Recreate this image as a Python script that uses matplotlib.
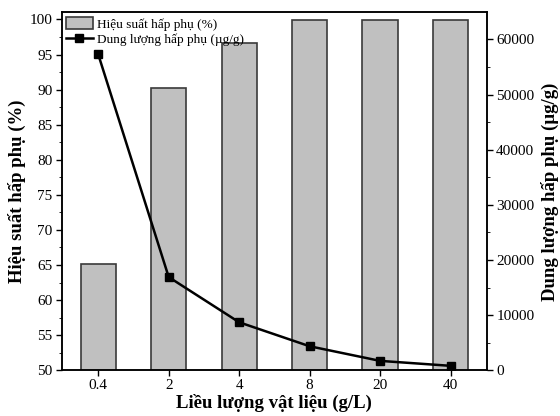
import matplotlib.pyplot as plt
from matplotlib.ticker import MultipleLocator

# Adsorption efficiency and capacity versus material dose
doses = ['0.4', '2', '4', '8', '20', '40']
efficiency = [65.2, 90.3, 96.6, 99.9, 99.9, 99.9]       # %
capacity = [57300, 16900, 8700, 4350, 1700, 800]         # µg/g

plt.rcParams['font.family'] = ['Liberation Serif', 'DejaVu Serif']
plt.rcParams['font.size'] = 11

fig, ax = plt.subplots(figsize=(5.6, 4.16), dpi=100)
fig.subplots_adjust(left=0.11, right=0.87, top=0.97, bottom=0.11)

x = list(range(len(doses)))
bars = ax.bar(x, efficiency, width=0.5, color='#c0c0c0', edgecolor='#3a3a3a',
              linewidth=1.2, label='Hiệu suất hấp phụ (%)', zorder=2)
ax.set_ylim(50, 101)
ax.set_xlim(-0.52, 5.52)
ax.set_xticks(x)
ax.set_xticklabels(doses)
ax.yaxis.set_major_locator(MultipleLocator(5))
ax.yaxis.set_minor_locator(MultipleLocator(2.5))
ax.set_xlabel('Liều lượng vật liệu (g/L)', fontsize=13.5, fontweight='bold', labelpad=1)
ax.set_ylabel('Hiệu suất hấp phụ (%)', fontsize=13.5, fontweight='bold', labelpad=3)
ax.tick_params(direction='out', length=4, width=1, pad=2.5)
ax.tick_params(which='minor', length=2)

ax2 = ax.twinx()
line, = ax2.plot(x, capacity, color='black', linewidth=1.8, marker='s',
                 markersize=5.5, label='Dung lượng hấp phụ (µg/g)', zorder=3)
ax2.set_ylim(0, 64900)
ax2.yaxis.set_major_locator(MultipleLocator(10000))
ax2.yaxis.set_minor_locator(MultipleLocator(5000))
ax2.set_ylabel('Dung lượng hấp phụ (µg/g)', fontsize=13.5, fontweight='bold', labelpad=5)
ax2.tick_params(direction='out', length=4, width=1, pad=2.5)
ax2.tick_params(which='minor', length=2)

for a in (ax, ax2):
    for s in a.spines.values():
        s.set_linewidth(1.1)

ax.legend([bars, line], ['Hiệu suất hấp phụ (%)', 'Dung lượng hấp phụ (µg/g)'],
          loc='upper left', frameon=False, fontsize=9.5, handlelength=2.0,
          handleheight=1.0, borderaxespad=0.15, borderpad=0.2,
          labelspacing=0.15, handletextpad=0.3)

plt.savefig('out.png', dpi=100)
